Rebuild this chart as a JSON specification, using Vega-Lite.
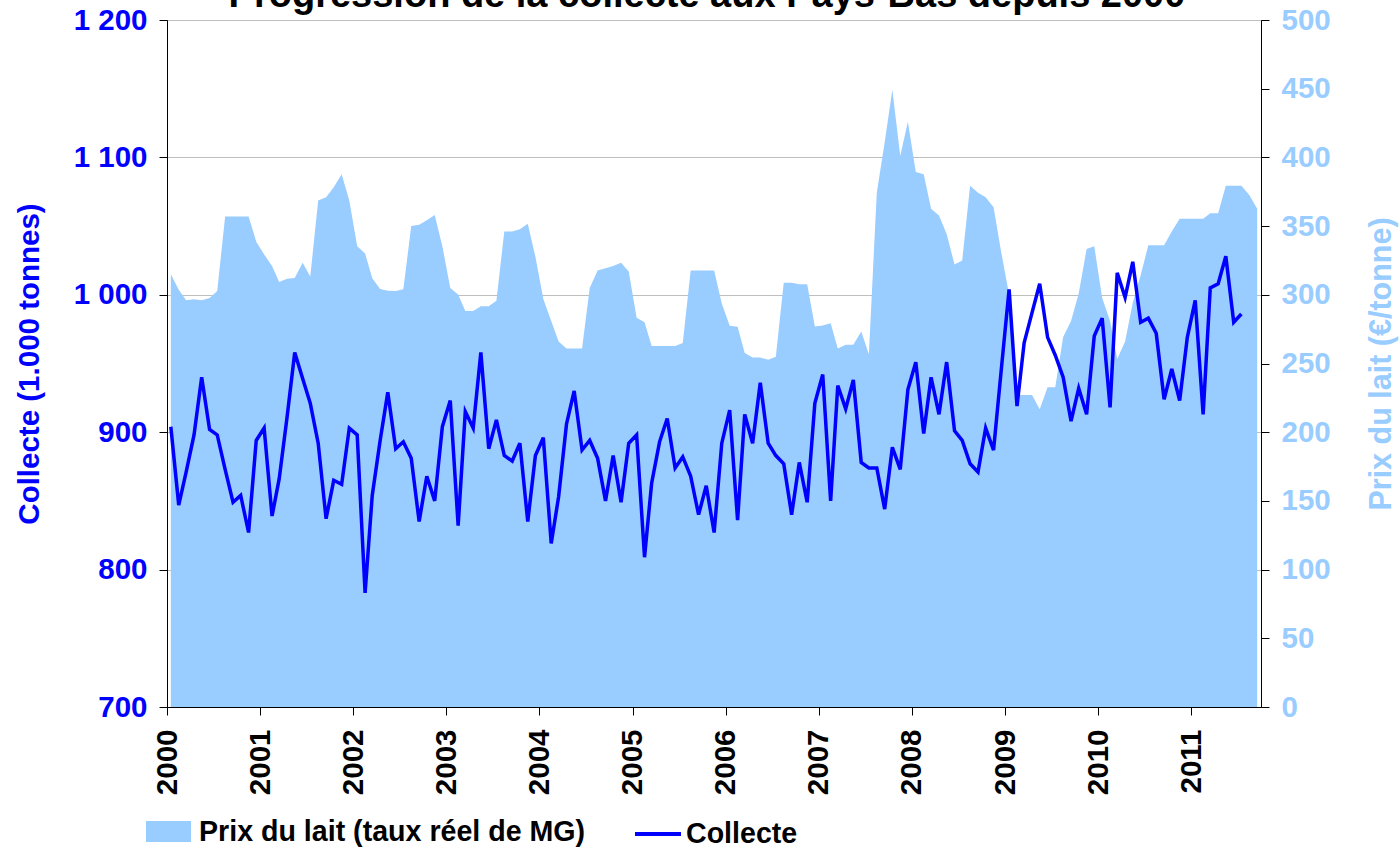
{
  "$schema": "https://vega.github.io/schema/vega-lite/v6.json",
  "width": 1094,
  "height": 687,
  "autosize": {"type": "none"},
  "padding": {"left": 167, "top": 20, "right": 138, "bottom": 141},
  "background": "white",
  "config": {
    "view": {"stroke": "#333333", "strokeWidth": 1},
    "font": "Liberation Sans"
  },
  "title": {
    "text": "Progression de la collecte aux Pays-Bas depuis 2000",
    "font": "Liberation Sans",
    "fontSize": 38,
    "fontWeight": "bold",
    "color": "#000000",
    "anchor": "middle",
    "frame": "group",
    "baseline": "alphabetic",
    "offset": -2,
    "dx": -7,
    "dy": 38
  },
  "datasets": {
    "lait": [
      {"date": "2000-01-16", "prix": 315, "collecte": 904},
      {"date": "2000-02-16", "prix": 303.7, "collecte": 847},
      {"date": "2000-03-16", "prix": 296, "collecte": 871},
      {"date": "2000-04-16", "prix": 296.7, "collecte": 898},
      {"date": "2000-05-16", "prix": 296, "collecte": 940},
      {"date": "2000-06-16", "prix": 297.7, "collecte": 902},
      {"date": "2000-07-16", "prix": 302.7, "collecte": 898},
      {"date": "2000-08-16", "prix": 357, "collecte": 873},
      {"date": "2000-09-16", "prix": 357, "collecte": 849},
      {"date": "2000-10-16", "prix": 357, "collecte": 854},
      {"date": "2000-11-16", "prix": 357, "collecte": 827},
      {"date": "2000-12-16", "prix": 338.7, "collecte": 894},
      {"date": "2001-01-16", "prix": 329.3, "collecte": 903},
      {"date": "2001-02-16", "prix": 321, "collecte": 839},
      {"date": "2001-03-16", "prix": 309.3, "collecte": 866},
      {"date": "2001-04-16", "prix": 311.7, "collecte": 911},
      {"date": "2001-05-16", "prix": 312.3, "collecte": 958},
      {"date": "2001-06-16", "prix": 323.3, "collecte": 939},
      {"date": "2001-07-16", "prix": 313.3, "collecte": 921},
      {"date": "2001-08-16", "prix": 368.7, "collecte": 892},
      {"date": "2001-09-16", "prix": 371, "collecte": 837},
      {"date": "2001-10-16", "prix": 378.3, "collecte": 865},
      {"date": "2001-11-16", "prix": 387.7, "collecte": 862},
      {"date": "2001-12-16", "prix": 368.7, "collecte": 903},
      {"date": "2002-01-16", "prix": 335.3, "collecte": 898},
      {"date": "2002-02-16", "prix": 330, "collecte": 783},
      {"date": "2002-03-16", "prix": 312, "collecte": 854},
      {"date": "2002-04-16", "prix": 304.3, "collecte": 894},
      {"date": "2002-05-16", "prix": 303, "collecte": 929},
      {"date": "2002-06-16", "prix": 302.7, "collecte": 888},
      {"date": "2002-07-16", "prix": 304, "collecte": 893},
      {"date": "2002-08-16", "prix": 350, "collecte": 881},
      {"date": "2002-09-16", "prix": 351, "collecte": 835},
      {"date": "2002-10-16", "prix": 354.3, "collecte": 868},
      {"date": "2002-11-16", "prix": 358, "collecte": 850},
      {"date": "2002-12-16", "prix": 335.3, "collecte": 904},
      {"date": "2003-01-16", "prix": 305, "collecte": 923},
      {"date": "2003-02-16", "prix": 300.3, "collecte": 832},
      {"date": "2003-03-16", "prix": 288.3, "collecte": 915},
      {"date": "2003-04-16", "prix": 288.3, "collecte": 903},
      {"date": "2003-05-16", "prix": 291.7, "collecte": 958},
      {"date": "2003-06-16", "prix": 291.7, "collecte": 888},
      {"date": "2003-07-16", "prix": 295.7, "collecte": 909},
      {"date": "2003-08-16", "prix": 346, "collecte": 883},
      {"date": "2003-09-16", "prix": 346, "collecte": 879},
      {"date": "2003-10-16", "prix": 347.7, "collecte": 892},
      {"date": "2003-11-16", "prix": 351.7, "collecte": 835},
      {"date": "2003-12-16", "prix": 327.7, "collecte": 883},
      {"date": "2004-01-16", "prix": 297, "collecte": 896},
      {"date": "2004-02-16", "prix": 281, "collecte": 819},
      {"date": "2004-03-16", "prix": 266, "collecte": 853},
      {"date": "2004-04-16", "prix": 261, "collecte": 906},
      {"date": "2004-05-16", "prix": 261, "collecte": 930},
      {"date": "2004-06-16", "prix": 261, "collecte": 887},
      {"date": "2004-07-16", "prix": 305, "collecte": 894},
      {"date": "2004-08-16", "prix": 317.7, "collecte": 881},
      {"date": "2004-09-16", "prix": 319.3, "collecte": 850},
      {"date": "2004-10-16", "prix": 321, "collecte": 883},
      {"date": "2004-11-16", "prix": 323.3, "collecte": 849},
      {"date": "2004-12-16", "prix": 317, "collecte": 892},
      {"date": "2005-01-16", "prix": 283.3, "collecte": 898},
      {"date": "2005-02-16", "prix": 280, "collecte": 809},
      {"date": "2005-03-16", "prix": 262.7, "collecte": 863},
      {"date": "2005-04-16", "prix": 262.7, "collecte": 893},
      {"date": "2005-05-16", "prix": 262.7, "collecte": 910},
      {"date": "2005-06-16", "prix": 262.7, "collecte": 874},
      {"date": "2005-07-16", "prix": 265, "collecte": 882},
      {"date": "2005-08-16", "prix": 317.7, "collecte": 868},
      {"date": "2005-09-16", "prix": 317.7, "collecte": 840},
      {"date": "2005-10-16", "prix": 317.7, "collecte": 861},
      {"date": "2005-11-16", "prix": 317.7, "collecte": 827},
      {"date": "2005-12-16", "prix": 293.7, "collecte": 892},
      {"date": "2006-01-16", "prix": 277.5, "collecte": 916},
      {"date": "2006-02-16", "prix": 276.7, "collecte": 836},
      {"date": "2006-03-16", "prix": 257.7, "collecte": 913},
      {"date": "2006-04-16", "prix": 254.3, "collecte": 892},
      {"date": "2006-05-16", "prix": 254.3, "collecte": 936},
      {"date": "2006-06-16", "prix": 252.7, "collecte": 892},
      {"date": "2006-07-16", "prix": 255, "collecte": 883},
      {"date": "2006-08-16", "prix": 308.7, "collecte": 877},
      {"date": "2006-09-16", "prix": 308.7, "collecte": 840},
      {"date": "2006-10-16", "prix": 307.7, "collecte": 878},
      {"date": "2006-11-16", "prix": 307.7, "collecte": 849},
      {"date": "2006-12-16", "prix": 277, "collecte": 921},
      {"date": "2007-01-16", "prix": 277.7, "collecte": 942},
      {"date": "2007-02-16", "prix": 279.3, "collecte": 850},
      {"date": "2007-03-16", "prix": 261, "collecte": 934},
      {"date": "2007-04-16", "prix": 263.7, "collecte": 917},
      {"date": "2007-05-16", "prix": 263.7, "collecte": 938},
      {"date": "2007-06-16", "prix": 273.3, "collecte": 878},
      {"date": "2007-07-16", "prix": 256.7, "collecte": 874},
      {"date": "2007-08-16", "prix": 374.3, "collecte": 874},
      {"date": "2007-09-16", "prix": 411, "collecte": 844},
      {"date": "2007-10-16", "prix": 449.3, "collecte": 889},
      {"date": "2007-11-16", "prix": 401, "collecte": 873},
      {"date": "2007-12-16", "prix": 426, "collecte": 931},
      {"date": "2008-01-16", "prix": 389.3, "collecte": 951},
      {"date": "2008-02-16", "prix": 387.7, "collecte": 899},
      {"date": "2008-03-16", "prix": 362.7, "collecte": 940},
      {"date": "2008-04-16", "prix": 357.7, "collecte": 913},
      {"date": "2008-05-16", "prix": 344.3, "collecte": 951},
      {"date": "2008-06-16", "prix": 322, "collecte": 901},
      {"date": "2008-07-16", "prix": 325, "collecte": 894},
      {"date": "2008-08-16", "prix": 379.3, "collecte": 877},
      {"date": "2008-09-16", "prix": 374.3, "collecte": 871},
      {"date": "2008-10-16", "prix": 371, "collecte": 903},
      {"date": "2008-11-16", "prix": 363.7, "collecte": 887},
      {"date": "2008-12-16", "prix": 331, "collecte": 945},
      {"date": "2009-01-16", "prix": 300, "collecte": 1004},
      {"date": "2009-02-16", "prix": 227, "collecte": 919},
      {"date": "2009-03-16", "prix": 227, "collecte": 965},
      {"date": "2009-04-16", "prix": 227, "collecte": 987},
      {"date": "2009-05-16", "prix": 216.7, "collecte": 1008},
      {"date": "2009-06-16", "prix": 232.7, "collecte": 969},
      {"date": "2009-07-16", "prix": 232.7, "collecte": 956},
      {"date": "2009-08-16", "prix": 269.3, "collecte": 940},
      {"date": "2009-09-16", "prix": 281, "collecte": 908},
      {"date": "2009-10-16", "prix": 301, "collecte": 932},
      {"date": "2009-11-16", "prix": 333.3, "collecte": 913},
      {"date": "2009-12-16", "prix": 335.3, "collecte": 970},
      {"date": "2010-01-16", "prix": 297.7, "collecte": 983},
      {"date": "2010-02-16", "prix": 281, "collecte": 918},
      {"date": "2010-03-16", "prix": 253.3, "collecte": 1016},
      {"date": "2010-04-16", "prix": 266, "collecte": 998},
      {"date": "2010-05-16", "prix": 294.3, "collecte": 1024},
      {"date": "2010-06-16", "prix": 314.3, "collecte": 980},
      {"date": "2010-07-16", "prix": 336, "collecte": 983},
      {"date": "2010-08-16", "prix": 336, "collecte": 972},
      {"date": "2010-09-16", "prix": 336, "collecte": 924},
      {"date": "2010-10-16", "prix": 346, "collecte": 946},
      {"date": "2010-11-16", "prix": 355.3, "collecte": 923},
      {"date": "2010-12-16", "prix": 355.3, "collecte": 969},
      {"date": "2011-01-16", "prix": 355.3, "collecte": 996},
      {"date": "2011-02-16", "prix": 355.3, "collecte": 913},
      {"date": "2011-03-16", "prix": 359.3, "collecte": 1005},
      {"date": "2011-04-16", "prix": 359.3, "collecte": 1008},
      {"date": "2011-05-16", "prix": 379.3, "collecte": 1028},
      {"date": "2011-06-16", "prix": 379.3, "collecte": 980},
      {"date": "2011-07-16", "prix": 379.3, "collecte": 986},
      {"date": "2011-08-16", "prix": 372.7, "collecte": null},
      {"date": "2011-09-16", "prix": 362.7, "collecte": null}
    ]
  },
  "data": {"name": "lait"},
  "layer": [
    {
      "mark": {"type": "area", "interpolate": "linear"},
      "encoding": {
        "x": {
          "field": "date",
          "type": "temporal",
          "scale": {"domain": [{"year": 2000, "month": 1, "date": 1}, {"year": 2011, "month": 10, "date": 1}]},
          "axis": {
            "title": null,
            "format": "%Y",
            "tickCount": {"interval": "year", "step": 1},
            "labelAngle": 270,
            "labelFont": "Liberation Sans",
            "labelFontSize": 29.5,
            "labelFontWeight": "bold",
            "labelColor": "#000000",
            "labelPadding": 14,
            "labelFlush": false,
            "labelOverlap": false,
            "tickSize": 8,
            "tickColor": "#000000",
            "domainColor": "#000000",
            "grid": false,
            "zindex": 1
          }
        },
        "y": {
          "field": "prix",
          "type": "quantitative",
          "scale": {"domain": [0, 500]},
          "axis": {
            "orient": "right",
            "values": [0, 50, 100, 150, 200, 250, 300, 350, 400, 450, 500],
            "title": "Prix du lait (€/tonne)",
            "titleFont": "Liberation Sans",
            "titleFontSize": 30.5,
            "titleFontWeight": "bold",
            "titleColor": "#99CCFF",
            "titleAngle": 270,
            "titlePadding": 66,
            "labelFont": "Liberation Sans",
            "labelFontSize": 29.5,
            "labelFontWeight": "bold",
            "labelColor": "#99CCFF",
            "labelPadding": 12,
            "labelFlush": false,
            "tickSize": 8,
            "tickColor": "#000000",
            "domainColor": "#000000",
            "grid": false,
            "zindex": 1
          }
        },
        "fill": {
          "datum": "Prix du lait (taux réel de MG)",
          "type": "nominal",
          "scale": {"range": ["#99CCFF"]},
          "legend": {
            "orient": "none",
            "legendX": -21,
            "legendY": 789,
            "title": null,
            "symbolType": "M-1,-0.467H1V0.467H-1Z",
            "symbolSize": 2025,
            "symbolStrokeWidth": 0,
            "labelFont": "Liberation Sans",
            "labelFontSize": 28.6,
            "labelFontWeight": "bold",
            "labelColor": "#000000",
            "labelOffset": 8,
            "labelLimit": 600
          }
        }
      }
    },
    {
      "mark": {"type": "line", "strokeWidth": 3.5},
      "encoding": {
        "x": {"field": "date", "type": "temporal"},
        "y": {
          "field": "collecte",
          "type": "quantitative",
          "scale": {"domain": [700, 1200]},
          "axis": {
            "orient": "left",
            "values": [700, 800, 900, 1000, 1100, 1200],
            "labelExpr": "replace(format(datum.value, ','), ',', ' ')",
            "title": "Collecte (1.000 tonnes)",
            "titleFont": "Liberation Sans",
            "titleFontSize": 29.5,
            "titleFontWeight": "bold",
            "titleColor": "#0000FF",
            "titlePadding": 29,
            "labelFont": "Liberation Sans",
            "labelFontSize": 29.5,
            "labelFontWeight": "bold",
            "labelColor": "#0000FF",
            "labelPadding": 12,
            "labelFlush": false,
            "tickSize": 8,
            "tickColor": "#000000",
            "domainColor": "#000000",
            "grid": true,
            "gridColor": "#BFBFBF",
            "gridWidth": 1,
            "zindex": 0
          }
        },
        "stroke": {
          "datum": "Collecte",
          "type": "nominal",
          "scale": {"range": ["#0000FF"]},
          "legend": {
            "orient": "none",
            "legendX": 466,
            "legendY": 789,
            "title": null,
            "symbolType": "stroke",
            "symbolSize": 2116,
            "symbolStrokeWidth": 4,
            "labelFont": "Liberation Sans",
            "labelFontSize": 28.6,
            "labelFontWeight": "bold",
            "labelColor": "#000000",
            "labelOffset": 3,
            "labelLimit": 300
          }
        }
      }
    }
  ],
  "resolve": {"scale": {"y": "independent"}}
}
